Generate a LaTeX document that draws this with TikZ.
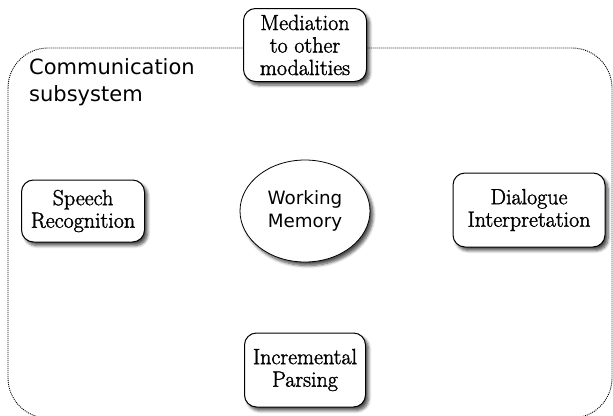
\documentclass[tikz,border=0pt]{standalone}
\usepackage{fontspec}
\newfontfamily\dejavu{DejaVu Sans}
\newfontfamily\boxfont{Latin Modern Roman}[FakeBold=1.6]
\usetikzlibrary{shadows.blur,shapes.geometric}
\begin{document}
\begin{tikzpicture}[x=1pt,y=-1pt,
  softshadow/.style={blur shadow={shadow xshift=3pt, shadow yshift=-3.5pt, shadow blur steps=6, shadow opacity=70, shadow blur radius=3pt}},
  modbox/.style={draw=black, line width=1pt, rounded corners=12pt, fill=white,
    align=center, inner sep=0pt,
    font=\boxfont\fontsize{22}{22.5}\selectfont, softshadow},
  memell/.style={draw=black, line width=0.8pt, ellipse, fill=white, align=center, inner sep=0pt,
    font=\dejavu\fontsize{18.3}{23}\selectfont, softshadow},
  subsys/.style={draw=black, line width=0.9pt, dash pattern=on 1pt off 1pt, rounded corners=40pt}
]
\useasboundingbox (0,0) rectangle (613,415);
\begin{scope}
\clip (0,0) rectangle (613,415);
\draw[subsys] (8,48) rectangle (612,418);
\end{scope}
\node[anchor=north west, align=left, font=\dejavu\fontsize{21}{27}\selectfont, inner sep=0pt] (lbl) at (29,58) {Communication\\subsystem};

\node[modbox, minimum width=123pt, minimum height=73pt] (med) at (305,45) {Mediation\\to other\\modalities};
\node[modbox, minimum width=123pt, minimum height=62pt] (sr) at (83,211) {Speech\\Recognition};
\node[modbox, minimum width=152pt, minimum height=74pt] (di) at (529,210) {Dialogue\\Interpretation};
\node[modbox, minimum width=121pt, minimum height=74pt] (ip) at (305,370) {Incremental\\Parsing};
\node[memell, minimum width=130pt, minimum height=102pt] (wm) at (305,211) {Working\\Memory};
\end{tikzpicture}
\end{document}
